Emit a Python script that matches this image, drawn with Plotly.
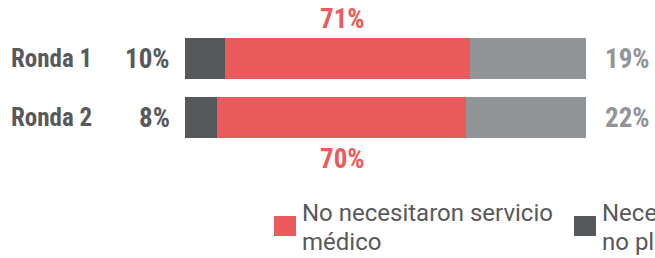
import plotly.graph_objects as go

# ---- data ----
rounds = ["Ronda 1", "Ronda 2"]
# segment lengths as drawn in the picture (share of bar)
seg_dark = [10, 8]
seg_red = [61, 62]
seg_light = [29, 30]
# printed labels
lab_dark = ["10%", "8%"]
lab_red = ["71%", "70%"]
lab_light = ["19%", "22%"]
legend_names = [["No necesitaron servicio", "médico"], ["Necesitaron servicio", "no planificado"]]

RED = "#EB5B5C"
DARK = "#54585A"
LIGHT = "#929598"
TXT = "#58595B"
FONT = "Roboto Condensed, Liberation Sans, Arial"
FONT_LEG = "Roboto, Liberation Sans, Arial"

W, H = 655, 258
L, R = 185, 69
PW = W - L - R

def px_x(px):
    return (px - L) / PW

def px_y(py):
    return 1 - py / H

ypos = list(range(len(rounds)))

fig = go.Figure()
for vals, col, name in [(seg_dark, DARK, "dark"), (seg_red, RED, "red"), (seg_light, LIGHT, "light")]:
    fig.add_trace(go.Bar(x=vals, y=ypos, orientation="h", marker=dict(color=col, line=dict(width=0)),
                         width=41 / 59, name=name, showlegend=False, hoverinfo="skip"))

ann = []
for i, r in enumerate(rounds):
    ann.append(dict(x=px_x(9), xref="paper", y=i, yref="y", text=f"<b>{r}</b>", showarrow=False,
                    xanchor="left", yanchor="middle", font=dict(family=FONT, size=25, color=TXT)))
    ann.append(dict(x=px_x(172), xref="paper", y=i, yref="y", text=f"<b>{lab_dark[i]}</b>", showarrow=False,
                    xanchor="right", yanchor="middle", font=dict(family=FONT, size=27, color=TXT)))
    ann.append(dict(x=px_x(603), xref="paper", y=i, yref="y", text=f"<b>{lab_light[i]}</b>", showarrow=False,
                    xanchor="left", yanchor="middle", font=dict(family=FONT, size=27, color=LIGHT)))
# red labels: above first bar, below second
ann.append(dict(x=px_x(342), xref="paper", y=0, yref="y", yshift=59 - 19, text=f"<b>{lab_red[0]}</b>",
                showarrow=False, xanchor="center", yanchor="middle", font=dict(family=FONT, size=27, color=RED)))
ann.append(dict(x=px_x(342), xref="paper", y=1, yref="y", yshift=-(159 - 118), text=f"<b>{lab_red[1]}</b>",
                showarrow=False, xanchor="center", yanchor="middle", font=dict(family=FONT, size=27, color=RED)))

# legend (manual)
shapes = []
for (x0, col, lines) in [(274, RED, legend_names[0]), (574, DARK, legend_names[1])]:
    shapes.append(dict(type="rect", xref="paper", yref="paper", x0=px_x(x0), x1=px_x(x0 + 22),
                       y0=px_y(236), y1=px_y(216), fillcolor=col, line=dict(width=0)))
    for k, line in enumerate(lines):
        ann.append(dict(x=px_x(x0 + 26), xref="paper", y=px_y(213 + 29 * k), yref="paper", text=line,
                        showarrow=False, xanchor="left", yanchor="middle", align="left",
                        font=dict(family=FONT_LEG, size=24, color=TXT)))

top = -58.5 / 59
bot = (H - 58.5) / 59
fig.update_layout(
    width=W, height=H, barmode="stack", bargap=0,
    margin=dict(l=L, r=R, t=0, b=0),
    paper_bgcolor="white", plot_bgcolor="white",
    xaxis=dict(range=[0, 100], visible=False, fixedrange=True),
    yaxis=dict(range=[bot, top], visible=False, fixedrange=True),
    annotations=ann, shapes=shapes, showlegend=False,
)
fig.write_html("out.html", config={"displayModeBar": False},
               post_script="document.body.style.margin='0';document.body.style.overflow='hidden';")
